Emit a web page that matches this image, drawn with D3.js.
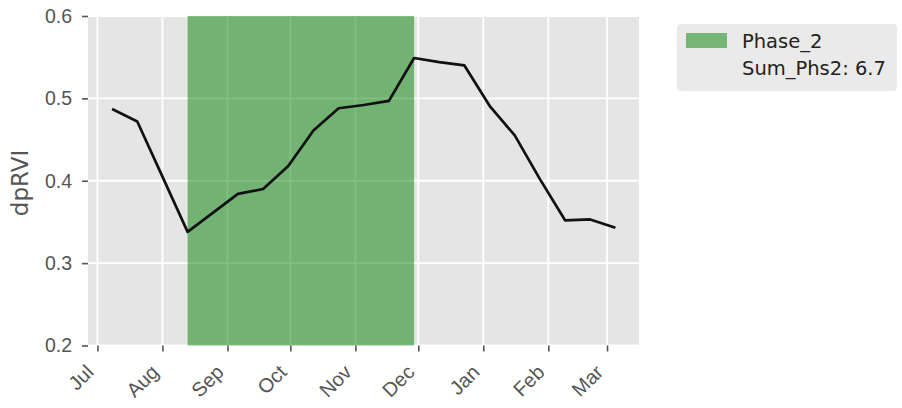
<!DOCTYPE html>
<html>
<head>
<meta charset="utf-8">
<script src="https://cdn.jsdelivr.net/npm/d3@7"></script>
<style>
  html, body { margin: 0; padding: 0; background: #ffffff; }
  svg { display: block; font-family: "DejaVu Sans", sans-serif; }
</style>
</head>
<body>
<svg id="chart" width="902" height="408"></svg>
<script>
// ---- data ----
const dates = ["2020-07-08","2020-07-20","2020-08-01","2020-08-13","2020-08-25","2020-09-06",
  "2020-09-18","2020-09-30","2020-10-12","2020-10-24","2020-11-05","2020-11-17","2020-11-29",
  "2020-12-11","2020-12-23","2021-01-04","2021-01-16","2021-01-28","2021-02-09","2021-02-21","2021-03-05"];
const dprvi = [0.487,0.472,0.405,0.338,0.361,0.384,0.390,0.418,0.461,0.488,0.492,0.497,0.549,
  0.544,0.540,0.491,0.455,0.402,0.352,0.353,0.343];
const phaseStart = "2020-08-13";
const phaseEnd = "2020-11-29";
const xDomain = ["2020-06-26 12:00", "2021-03-16 06:00"];
const yTicks = [0.2, 0.3, 0.4, 0.5, 0.6];
const legendLabels = ["Phase_2", "Sum_Phs2: 6.7"];
const yLabel = "dpRVI";

// ---- layout ----
const parse = d3.timeParse("%Y-%m-%d");
const parseDT = d3.timeParse("%Y-%m-%d %H:%M");
const pts = dates.map((d, i) => ({ date: parse(d), v: dprvi[i] }));
const pLeft = 88, pRight = 639, pTop = 16, pBottom = 345.5;

const svg = d3.select("#chart");
const x = d3.scaleTime()
  .domain(xDomain.map(parseDT))
  .range([pLeft, pRight]);
const y = d3.scaleLinear().domain([0.2, 0.6]).range([pBottom, pTop]);

// background
svg.append("rect").attr("x", pLeft).attr("y", pTop)
  .attr("width", pRight - pLeft).attr("height", pBottom - pTop).attr("fill", "#e5e5e5");

const monthTicks = x.ticks(d3.timeMonth.every(1));

// grid
svg.append("g").selectAll("line").data(monthTicks).join("line")
  .attr("x1", d => x(d)).attr("x2", d => x(d)).attr("y1", pTop).attr("y2", pBottom)
  .attr("stroke", "#ffffff").attr("stroke-width", 1.8);
svg.append("g").selectAll("line").data(yTicks).join("line")
  .attr("x1", pLeft).attr("x2", pRight).attr("y1", d => y(d)).attr("y2", d => y(d))
  .attr("stroke", "#ffffff").attr("stroke-width", 1.8);

// phase span
svg.append("rect")
  .attr("x", x(parse(phaseStart))).attr("y", pTop)
  .attr("width", x(parse(phaseEnd)) - x(parse(phaseStart)))
  .attr("height", pBottom - pTop)
  .attr("fill", "green").attr("fill-opacity", 0.5);

// line
svg.append("path").datum(pts)
  .attr("d", d3.line().x(d => x(d.date)).y(d => y(d.v)))
  .attr("fill", "none").attr("stroke", "#111111").attr("stroke-width", 2.7)
  .attr("stroke-linejoin", "round");

// x axis
const xAxis = d3.axisBottom(x).tickValues(monthTicks).tickFormat(d3.timeFormat("%b"))
  .tickSize(6).tickPadding(5);
const gx = svg.append("g").attr("transform", `translate(0,${pBottom})`).call(xAxis);
gx.select(".domain").remove();
gx.selectAll(".tick line").attr("stroke", "#555555").attr("stroke-width", 1.6);
gx.selectAll(".tick text")
  .attr("fill", "#555555").style("font-size", "20px")
  .attr("text-anchor", "end")
  .attr("dy", "0.35em")
  .attr("transform", "translate(-8,23) rotate(-45)")
  .attr("y", 0);

// y axis
const yAxis = d3.axisLeft(y).tickValues(yTicks).tickFormat(d3.format(".1f"))
  .tickSize(6).tickPadding(10);
const gy = svg.append("g").attr("transform", `translate(${pLeft},0)`).call(yAxis);
gy.select(".domain").remove();
gy.selectAll(".tick line").attr("stroke", "#555555").attr("stroke-width", 1.6);
gy.selectAll(".tick text").attr("fill", "#555555").style("font-size", "19.5px");

// y label
svg.append("text")
  .attr("transform", `translate(27.5,183) rotate(-90)`)
  .attr("text-anchor", "middle")
  .attr("fill", "#555555").style("font-size", "23px")
  .text(yLabel);

// legend
const lg = svg.append("g");
lg.append("rect").attr("x", 677).attr("y", 24).attr("width", 220).attr("height", 67)
  .attr("rx", 4).attr("fill", "#eaeaea");
lg.append("rect").attr("x", 686).attr("y", 33).attr("width", 41).attr("height", 15)
  .attr("fill", "green").attr("fill-opacity", 0.5);
lg.selectAll("text.lab").data(legendLabels).join("text")
  .attr("class", "lab")
  .attr("x", 742).attr("y", (d, i) => 48 + i * 27)
  .attr("fill", "#222222").style("font-size", "19.5px")
  .text(d => d);
</script>
</body>
</html>
